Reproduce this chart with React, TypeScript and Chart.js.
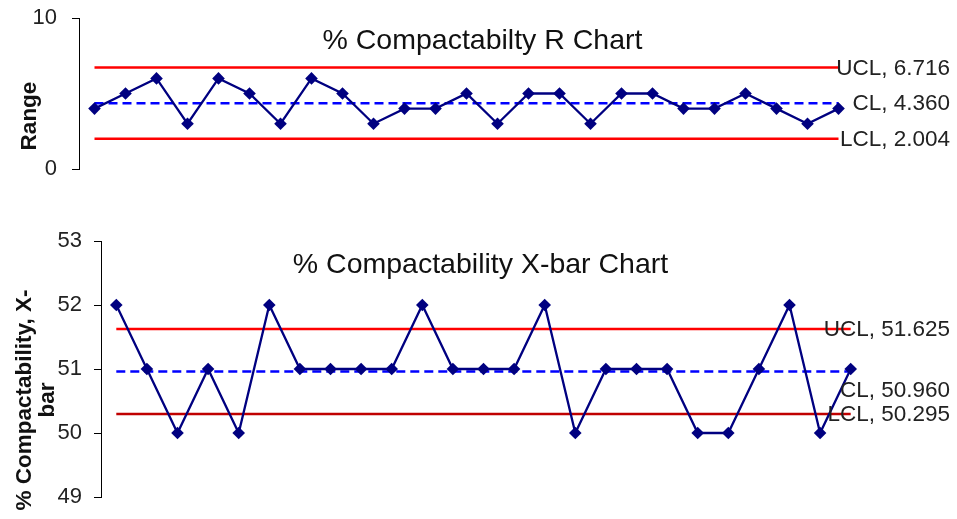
import React, { useEffect, useRef } from 'react';
import { Chart, registerables } from 'chart.js';

Chart.register(...registerables);

// ---------- data ----------
const samples = ['1','2','3','4','5','6','7','8','9','10','11','12','13','14','15','16','17','18','19','20','21','22','23','24','25'];

const rangeValues = [4, 5, 6, 3, 6, 5, 3, 6, 5, 3, 4, 4, 5, 3, 5, 5, 3, 5, 5, 4, 4, 5, 4, 3, 4];
const rangeUCL = 6.716;
const rangeCL = 4.36;
const rangeLCL = 2.004;
const rangeTicks = [0, 10];

const xbarValues = [52, 51, 50, 51, 50, 52, 51, 51, 51, 51, 52, 51, 51, 51, 52, 50, 51, 51, 51, 50, 50, 51, 52, 50, 51];
const xbarUCL = 51.625;
const xbarCL = 50.96;
const xbarLCL = 50.295;
const xbarTicks = [49, 50, 51, 52, 53];

const rangeTitle = '% Compactabilty R Chart';
const rangeAxisTitle = ['Range'];
const xbarTitle = '% Compactability X-bar Chart';
const xbarAxisTitle = ['% Compactability, X-', 'bar'];

const FONT = '"Liberation Sans", Arial, Helvetica, sans-serif';

const endPoints = (v: number) => [
  { x: samples[0], y: v },
  { x: samples[samples.length - 1], y: v },
];

const overlayPlugin = {
  id: 'overlay',
  afterDatasetsDraw(chart: any, _args: any, opts: any) {
    const ctx = chart.ctx;
    const area = chart.chartArea;
    ctx.save();
    // chart title
    ctx.fillStyle = '#111111';
    ctx.font = `28.5px ${FONT}`;
    ctx.textAlign = 'center';
    ctx.textBaseline = 'middle';
    ctx.fillText(opts.title, chart.width / 2 + opts.titleDx, area.top + opts.titleDy);
    // y axis title (rotated)
    ctx.font = `bold 22.5px ${FONT}`;
    const lines: string[] = opts.axisTitle;
    lines.forEach((line: string, i: number) => {
      ctx.save();
      ctx.translate(opts.axisX[i], opts.axisY);
      ctx.rotate(-Math.PI / 2);
      ctx.fillText(line, 0, 0);
      ctx.restore();
    });
    // control line labels
    ctx.font = `22.5px ${FONT}`;
    ctx.fillStyle = '#222222';
    ctx.textAlign = 'right';
    chart.data.datasets.forEach((ds: any, i: number) => {
      if (!ds.endLabel) return;
      const meta = chart.getDatasetMeta(i);
      const pt = meta.data[meta.data.length - 1];
      ctx.fillText(ds.endLabel, chart.width - 7, pt.y + 1 + (ds.labelDy || 0));
    });
    ctx.restore();
  },
};

function makeConfig(p: {
  values: number[];
  ucl: number;
  cl: number;
  lcl: number;
  lclColor: string;
  ticks: number[];
  title: string;
  axisTitle: string[];
  axisWidth: number;
  tickPad: number;
  padding: { top: number; bottom: number; right: number };
  clLabelDy: number;
  titleDx: number;
  titleDy: number;
  axisX: number[];
  axisY: number;
}): any {
  return {
    type: 'line',
    data: {
      labels: samples,
      datasets: [
        {
          label: 'value',
          data: p.values,
          borderColor: '#000080',
          backgroundColor: '#000080',
          borderWidth: 2.3,
          pointStyle: 'rectRot',
          pointRadius: 6.3,
          pointBorderWidth: 0,
          pointBackgroundColor: '#000080',
        },
        {
          label: 'UCL',
          data: endPoints(p.ucl),
          borderColor: '#FF0000',
          borderWidth: 2.5,
          pointRadius: 0,
          endLabel: `UCL, ${p.ucl.toFixed(3)}`,
        },
        {
          label: 'CL',
          data: endPoints(p.cl),
          borderColor: '#0000FF',
          borderWidth: 2.5,
          borderDash: [9, 5],
          pointRadius: 0,
          endLabel: `CL, ${p.cl.toFixed(3)}`,
          labelDy: p.clLabelDy,
        },
        {
          label: 'LCL',
          data: endPoints(p.lcl),
          borderColor: p.lclColor,
          borderWidth: 2.5,
          pointRadius: 0,
          endLabel: `LCL, ${p.lcl.toFixed(3)}`,
        },
      ],
    },
    options: {
      responsive: false,
      animation: false,
      devicePixelRatio: 1,
      layout: { padding: { left: 0, top: p.padding.top, bottom: p.padding.bottom, right: p.padding.right } },
      plugins: {
        legend: { display: false },
        title: { display: false },
        tooltip: { enabled: false },
        overlay: {
          title: p.title,
          axisTitle: p.axisTitle,
          titleDx: p.titleDx,
          titleDy: p.titleDy,
          axisX: p.axisX,
          axisY: p.axisY,
        },
      },
      scales: {
        x: { type: 'category', display: false, offset: true },
        y: {
          min: p.ticks[0],
          max: p.ticks[p.ticks.length - 1],
          afterBuildTicks: (s: any) => {
            s.ticks = p.ticks.map((v) => ({ value: v }));
          },
          afterFit: (s: any) => {
            s.width = p.axisWidth;
            s.paddingTop = 0;
            s.paddingBottom = 0;
          },
          grid: { drawOnChartArea: false, drawTicks: true, tickLength: 7, color: '#000000', tickColor: '#000000', tickWidth: 1 },
          border: { display: true, color: '#000000', width: 1 },
          ticks: { color: '#222222', font: { family: FONT, size: 22 }, padding: p.tickPad },
        },
      },
    },
    plugins: [overlayPlugin],
  };
}

export default function App() {
  const topRef = useRef<HTMLCanvasElement>(null);
  const botRef = useRef<HTMLCanvasElement>(null);

  useEffect(() => {
    Chart.defaults.font.family = FONT;
    const top = new Chart(
      topRef.current as HTMLCanvasElement,
      makeConfig({
        values: rangeValues,
        ucl: rangeUCL,
        cl: rangeCL,
        lcl: rangeLCL,
        lclColor: '#FF0000',
        ticks: rangeTicks,
        title: rangeTitle,
        axisTitle: rangeAxisTitle,
        axisWidth: 79,
        tickPad: 15,
        padding: { top: 18, bottom: 41, right: 103 },
        clLabelDy: 0,
        titleDx: 4,
        titleDy: 23,
        axisX: [30],
        axisY: 116,
      })
    );
    const bot = new Chart(
      botRef.current as HTMLCanvasElement,
      makeConfig({
        values: xbarValues,
        ucl: xbarUCL,
        cl: xbarCL,
        lcl: xbarLCL,
        lclColor: '#C00000',
        ticks: xbarTicks,
        title: xbarTitle,
        axisTitle: xbarAxisTitle,
        axisWidth: 101,
        tickPad: 12,
        padding: { top: 31, bottom: 22, right: 91 },
        clLabelDy: 18,
        titleDx: 2,
        titleDy: 24,
        axisX: [25, 48],
        axisY: 190,
      })
    );
    return () => {
      top.destroy();
      bot.destroy();
    };
  }, []);

  return (
    <div style={{ position: 'absolute', left: 0, top: 0, width: 957, height: 519, background: '#ffffff' }}>
      <canvas ref={topRef} width={957} height={210} style={{ position: 'absolute', left: 0, top: 0, display: 'block' }} />
      <canvas ref={botRef} width={957} height={309} style={{ position: 'absolute', left: 0, top: 210, display: 'block' }} />
    </div>
  );
}
